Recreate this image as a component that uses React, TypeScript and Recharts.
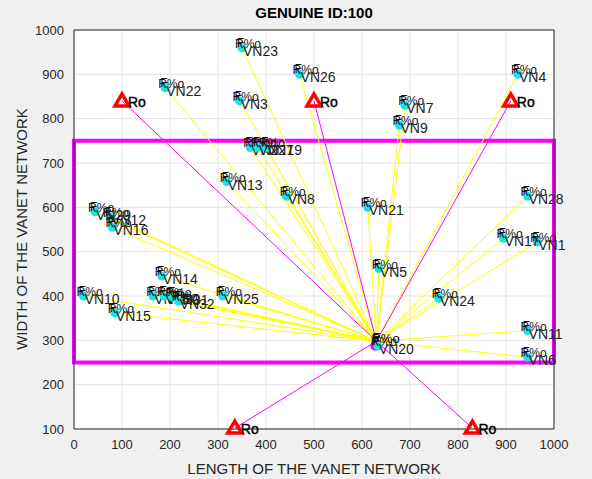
import {
  ComposedChart,
  Scatter,
  XAxis,
  YAxis,
  CartesianGrid,
  ReferenceLine,
  ReferenceArea,
} from 'recharts';

// vehicle nodes
const VN_NAMES = [
  'VN1', 'VN2', 'VN3', 'VN4', 'VN5', 'VN6', 'VN7', 'VN8', 'VN9', 'VN10',
  'VN11', 'VN12', 'VN13', 'VN14', 'VN15', 'VN16', 'VN17', 'VN18', 'VN19', 'VN20',
  'VN21', 'VN22', 'VN23', 'VN24', 'VN25', 'VN26', 'VN27', 'VN28', 'VN29', 'VN30',
  'VN31', 'VN32',
];
const VN_X = [
  965, 367, 345, 925, 635, 945, 690, 443, 678, 20,
  945, 75, 318, 183, 85, 80, 895, 165, 400, 633,
  612, 190, 350, 760, 310, 470, 383, 945, 44, 188,
  205, 218,
];
const VN_Y = [
  522, 735, 840, 900, 462, 262, 830, 625, 785, 400,
  322, 578, 658, 445, 362, 555, 530, 400, 735, 287,
  600, 870, 960, 395, 400, 900, 736, 625, 590, 400,
  398, 388,
];

// road side units
const RO_X = [100, 500, 910, 335, 830];
const RO_Y = [840, 840, 840, 102, 102];

// genuine node (ID 100)
const HUB_X = 630;
const HUB_Y = 298;

const X_TICKS = [0, 100, 200, 300, 400, 500, 600, 700, 800, 900, 1000];
const Y_TICKS = [100, 200, 300, 400, 500, 600, 700, 800, 900, 1000];

const FONT = '"Liberation Sans", Arial, sans-serif';

const vnData = VN_NAMES.map((name, i) => ({ name, x: VN_X[i], y: VN_Y[i] }));
const roData = RO_X.map((x, i) => ({ x, y: RO_Y[i] }));
const hubData = [{ x: HUB_X - 2, y: HUB_Y - 10 }];

// eslint-disable-next-line @typescript-eslint/no-explicit-any
const renderVn = (props: any) => {
  const { cx, cy, payload } = props;
  return (
    <g fontFamily={FONT}>
      <circle cx={cx} cy={cy} r={4.5} fill="#17e3e8" />
      <text x={cx - 7} y={cy} fontSize={12} fill="#111">R%o</text>
      <text x={cx - 5} y={cy - 1} fontSize={12} fill="#111">F</text>
      <text x={cx + 1} y={cy + 8} fontSize={14} fill="#222">{payload.name}</text>
    </g>
  );
};

// eslint-disable-next-line @typescript-eslint/no-explicit-any
const renderRo = (props: any) => {
  const { cx, cy } = props;
  return (
    <g fontFamily={FONT}>
      <path
        d={`M${cx},${cy - 7} L${cx - 7},${cy + 5} L${cx + 7},${cy + 5} Z`}
        fill="none"
        stroke="#ff0000"
        strokeWidth={3.5}
        strokeLinejoin="miter"
      />
      <text x={cx + 6} y={cy + 6} fontSize={14} fill="#000" stroke="#000" strokeWidth={0.4}>Ro</text>
    </g>
  );
};

// eslint-disable-next-line @typescript-eslint/no-explicit-any
const renderHub = (props: any) => {
  const { cx, cy } = props;
  return (
    <g fontFamily={FONT}>
      <circle cx={cx} cy={cy} r={5} fill="#ff00ff" />
      <text x={cx - 4} y={cy - 3} fontSize={13} fill="#000">R%o</text>
      <text x={cx - 3} y={cy - 4} fontSize={13} fill="#000">F</text>
    </g>
  );
};

export default function App() {
  return (
    <div
      style={{
        position: 'absolute',
        left: 0,
        top: 0,
        width: 592,
        height: 479,
        background: '#f0f0f0',
        fontFamily: FONT,
      }}
    >
      <div
        style={{
          position: 'absolute',
          left: 164,
          width: 300,
          top: 4,
          textAlign: 'center',
          fontSize: 15,
          fontWeight: 'bold',
          color: '#000',
        }}
      >
        GENUINE ID:100
      </div>
      <ComposedChart
        width={592}
        height={479}
        margin={{ top: 30, right: 38, bottom: 20, left: 24 }}
      >
        <CartesianGrid stroke="#e3e3e3" fill="#ffffff" />
        <XAxis
          type="number"
          dataKey="x"
          domain={[0, 1000]}
          ticks={X_TICKS}
          height={30}
          tickLine={false}
          tickMargin={5}
          axisLine={{ stroke: '#262626' }}
          tick={{ fill: '#262626', fontSize: 13, fontFamily: FONT }}
        />
        <YAxis
          type="number"
          dataKey="y"
          domain={[100, 1000]}
          ticks={Y_TICKS}
          width={50}
          tickLine={false}
          tickMargin={4}
          axisLine={{ stroke: '#262626' }}
          tick={{ fill: '#262626', fontSize: 13, fontFamily: FONT }}
        />
        <ReferenceLine y={1000} stroke="#262626" />
        <ReferenceLine x={1000} stroke="#262626" />
        {vnData.map((v) => (
          <ReferenceLine
            key={`y-${v.name}`}
            segment={[{ x: v.x, y: v.y }, { x: HUB_X, y: HUB_Y }]}
            stroke="#ffff00"
            strokeWidth={1}
            ifOverflow="visible"
          />
        ))}
        {roData.map((r, i) => (
          <ReferenceLine
            key={`m-${i}`}
            segment={[{ x: r.x, y: r.y }, { x: HUB_X, y: HUB_Y }]}
            stroke="#ff00ff"
            strokeWidth={1}
            ifOverflow="visible"
          />
        ))}
        <ReferenceArea
          x1={0}
          x2={1000}
          y1={250}
          y2={750}
          fill="none"
          fillOpacity={0}
          stroke="#ff00ff"
          strokeWidth={4}
          ifOverflow="visible"
        />
        <Scatter data={hubData} shape={renderHub} isAnimationActive={false} />
        <Scatter data={vnData} shape={renderVn} isAnimationActive={false} />
        <Scatter data={roData} shape={renderRo} isAnimationActive={false} />
      </ComposedChart>
      <div
        style={{
          position: 'absolute',
          left: 74,
          width: 480,
          top: 460,
          textAlign: 'center',
          fontSize: 15,
          color: '#262626',
        }}
      >
        LENGTH OF THE VANET NETWORK
      </div>
      <div
        style={{
          position: 'absolute',
          left: 22 - 150,
          top: 229 - 10,
          width: 300,
          height: 20,
          lineHeight: '20px',
          textAlign: 'center',
          fontSize: 15,
          color: '#262626',
          transform: 'rotate(-90deg)',
        }}
      >
        WIDTH OF THE VANET NETWORK
      </div>
    </div>
  );
}
